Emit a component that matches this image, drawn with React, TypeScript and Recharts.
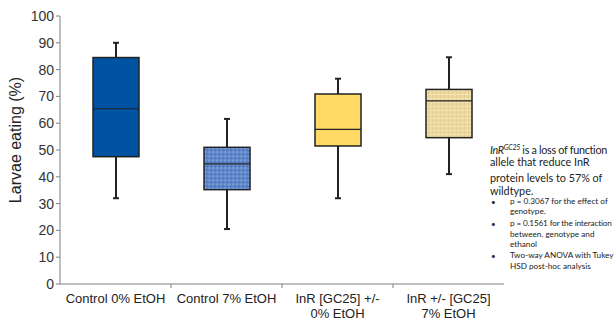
import { ComposedChart, Bar, XAxis, YAxis } from "recharts"

const categories = ["Control 0% EtOH", "Control 7% EtOH", "InR [GC25] +/-|0% EtOH", "InR +/- [GC25]|7% EtOH"]
const mins = [32, 20.5, 32, 41]
const q1s = [47.5, 35.2, 51.5, 54.6]
const medians = [65.4, 44.8, 57.7, 68.3]
const q3s = [84.5, 51, 70.9, 72.6]
const maxs = [90, 61.6, 76.6, 84.6]
const yTicks = [0, 10, 20, 30, 40, 50, 60, 70, 80, 90, 100]

const noteLines = ["allele that reduce InR", "protein levels to 57% of", "wildtype."]
const bulletLines = [
  ["p = 0.3067 for the effect of", "genotype."],
  ["p = 0.1561 for the interaction", "between. genotype and", "ethanol"],
  ["Two-way ANOVA with Tukey", "HSD post-hoc analysis"],
]

const fills = ["#0052a3", "url(#bluetex)", "#ffd966", "url(#tantex)"]

const data = categories.map((name, i) => ({
  name,
  range: [mins[i], maxs[i]],
  min: mins[i],
  q1: q1s[i],
  median: medians[i],
  q3: q3s[i],
  max: maxs[i],
  fill: fills[i],
}))

const BoxShape = (props: any) => {
  const { x, y, width, height, payload } = props
  const { min, max, q1, q3, median, fill } = payload
  // map a value onto the pixel span the bar scale gave us for [min, max]
  const py = (v: number) => y + ((max - v) / (max - min)) * height
  const cx = x + width / 2
  const cap = 3
  return (
    <g>
      <line x1={cx} x2={cx} y1={py(max)} y2={py(min)} stroke="#222" strokeWidth={2} />
      <line x1={cx - cap} x2={cx + cap} y1={py(max)} y2={py(max)} stroke="#222" strokeWidth={2} />
      <line x1={cx - cap} x2={cx + cap} y1={py(min)} y2={py(min)} stroke="#222" strokeWidth={2} />
      <rect x={x} y={py(q3)} width={width} height={py(q1) - py(q3)} fill={fill} stroke="#222" strokeWidth={1.5} />
      <line x1={x} x2={x + width} y1={py(median)} y2={py(median)} stroke="#222" strokeWidth={1.2} />
    </g>
  )
}

const CatTick = (props: any) => {
  const { x, y, payload, index } = props
  const half = payload.offset || 55.5
  const lines = String(payload.value).split("|")
  return (
    <g>
      {index < categories.length - 1 && (
        <line x1={x + half} x2={x + half} y1={y - 8} y2={y - 4} stroke="#808080" />
      )}
      <text x={x} y={y + 11} textAnchor="middle" fontSize={13} fill="#222" fontFamily="Liberation Sans, Arial, sans-serif">
        {lines.map((l, i) => (
          <tspan key={i} x={x} dy={i === 0 ? 0 : 15}>
            {l}
          </tspan>
        ))}
      </text>
    </g>
  )
}

const font = "Lato, Open Sans, sans-serif"

const Line = ({ top, left, size, children, spacing = 0 }: any) => (
  <div
    style={{
      position: "absolute",
      left,
      top: top - size * 0.55,
      fontSize: size,
      lineHeight: `${size * 1.1}px`,
      letterSpacing: spacing,
      whiteSpace: "nowrap",
      fontFamily: font,
      color: "#222",
    }}
  >
    {children}
  </div>
)

export default function App() {
  const noteTops = [162, 178, 191]
  const bulletTops = [[202, 212], [224, 235, 245], [256, 267]]
  return (
    <div style={{ position: "absolute", left: 0, top: 0, width: 614, height: 324, overflow: "hidden", background: "#fff" }}>
      <ComposedChart
        width={614}
        height={324}
        data={data}
        margin={{ top: 16, right: 110, bottom: 10, left: 0 }}
        barCategoryGap={0}
      >
        <defs>
          <pattern id="bluetex" width="4" height="4" patternUnits="userSpaceOnUse">
            <rect width="4" height="4" fill="#5f86c9" />
            <rect x="0" y="0" width="2" height="1" fill="#7f9fd8" />
            <rect x="2" y="2" width="2" height="1" fill="#4a73b9" />
            <rect x="1" y="3" width="1" height="1" fill="#8aa8dc" />
          </pattern>
          <pattern id="tantex" width="4" height="4" patternUnits="userSpaceOnUse">
            <rect width="4" height="4" fill="#ecd9a2" />
            <rect x="0" y="0" width="1" height="4" fill="#e3cc8c" />
            <rect x="0" y="2" width="4" height="1" fill="#f2e3b6" />
          </pattern>
        </defs>
        <XAxis
          dataKey="name"
          type="category"
          stroke="#808080"
          tickLine={false}
          interval={0}
          height={30}
          tick={<CatTick />}
        />
        <YAxis
          domain={[0, 100]}
          ticks={yTicks}
          width={60}
          stroke="#808080"
          tickSize={4}
          tick={{ fill: "#333", fontSize: 14, fontFamily: "Liberation Sans, Arial, sans-serif" }}
          label={{
            value: "Larvae eating (%)",
            content: () => (
              <text
                x={17}
                y={140}
                transform="rotate(-90 17 140)"
                textAnchor="middle"
                dominantBaseline="middle"
                fontSize={16}
                fill="#222"
                fontFamily="Liberation Sans, Arial, sans-serif"
              >
                Larvae eating (%)
              </text>
            ),
          }}
        />
        <Bar dataKey="range" barSize={46} shape={<BoxShape />} isAnimationActive={false} />
      </ComposedChart>
      <Line top={148} left={490} size={10.8} spacing={-0.3}>
        <i>InR</i>
        <i style={{ fontSize: 7, verticalAlign: "4px" }}>GC25</i> is a loss of function
      </Line>
      {noteLines.map((l, i) => (
        <Line key={l} top={noteTops[i]} left={490} size={10.8}>
          {l}
        </Line>
      ))}
      {bulletLines.map((item, i) =>
        item.map((l, j) => (
          <div key={l}>
            {j === 0 && (
              <Line top={bulletTops[i][j]} left={491} size={8}>
                •
              </Line>
            )}
            <Line top={bulletTops[i][j]} left={510} size={8.2} spacing={i === 1 && j === 0 ? -0.15 : 0}>
              {l}
            </Line>
          </div>
        ))
      )}
    </div>
  )
}
